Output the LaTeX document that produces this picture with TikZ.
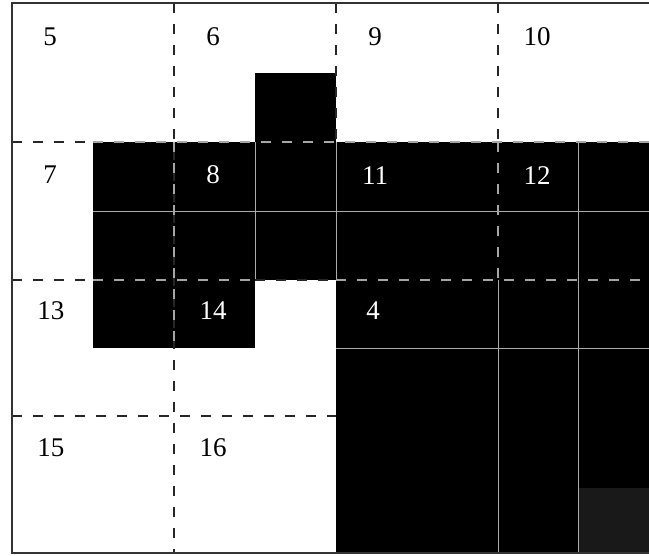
\documentclass[tikz,border=0pt]{standalone}
\usepackage{fontspec}
\setmainfont{Liberation Serif}
\tikzset{
  lbl/.style={inner sep=0pt, font=\fontsize{27}{30}\selectfont},
  gridline/.style={line width=2.4pt, dash pattern=on 10pt off 11pt},
  thinline/.style={line width=0.9pt, gray!65}
}
\begin{document}
\begin{tikzpicture}[x=1pt,y=-1pt]
                \useasboundingbox (0,0) rectangle (649,556);
                \fill[white] (0,0) rectangle (649,556);
                % dark blocks
                \fill[black] (255,73) rectangle (336,142);
                \fill[black] (93,142) rectangle (649,280);
                \fill[black] (93,280) rectangle (255,348);
                \fill[black] (336,280) rectangle (649,553);
                \fill[black!90!white] (579,488) rectangle (649,553);
                % thin lines inside the dark blocks
                \draw[thinline] (93,211) -- (649,211);
                \draw[thinline] (336,348) -- (649,348);
                \foreach \x in {255,336}
                \draw[thinline] (\x,142) -- (\x,280);
                \draw[thinline] (498,280) -- (498,553);
                \draw[thinline] (578,142) -- (578,553);
                % dashed grid on white
                \draw[gridline, black!85] (174,3) -- (174,553);
                \foreach \x in {336,498}
                \draw[gridline, black!85] (\x,3) -- (\x,142);
                \foreach \y in {142,280}
                \draw[gridline, black!85] (12,\y) -- (93,\y);
                \draw[gridline, black!85] (255,280) -- (336,280);
                \draw[gridline, black!85] (12,416) -- (336,416);
                % dashed grid on black
                \draw[gridline, gray!70, line width=1.6pt] (174,142) -- (174,348);
                \draw[gridline, gray!70, line width=1.6pt] (498,142) -- (498,280);
                \draw[gridline, gray!70, line width=1.6pt] (93,142) -- (649,142);
                \draw[gridline, gray!70, line width=1.6pt] (93,280) -- (255,280);
                \draw[gridline, gray!70, line width=1.6pt] (336,280) -- (649,280);
                % frame
                \draw[line width=2pt, black!80] (649,3) -- (12,3) -- (12,553) -- (649,553);
                % cell numbers
                \foreach \n/\x/\y/\c in {5/50/37/black, 6/213/37/black, 9/375/37/black,
                  10/537/37/black, 7/50/175/black, 8/213/175/white, 11/375/176/white,
                  12/537/176/white, 13/51/311/black, 14/213/311/white, 4/373/311/white,
                  15/51/448/black, 16/213/448/black}
                \node[lbl, text=\c] (c\n) at (\x,\y) {\n};
            \end{tikzpicture}
\end{document}
